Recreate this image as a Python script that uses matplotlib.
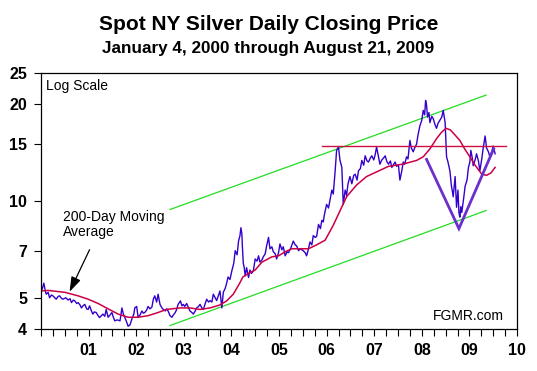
import numpy as np
import matplotlib
matplotlib.use('Agg')
import matplotlib.pyplot as plt
from matplotlib.ticker import FixedLocator, NullFormatter

plt.rcParams['font.family'] = ['Liberation Sans', 'DejaVu Sans']

# spot silver close (decimal year, US$/oz)
price_t = [2000.00, 2000.03, 2000.06, 2000.09, 2000.11, 2000.15, 2000.18, 2000.22, 2000.25, 2000.29,
           2000.32, 2000.36, 2000.39, 2000.43, 2000.46, 2000.52, 2000.57, 2000.61, 2000.64, 2000.68,
           2000.71, 2000.75, 2000.78, 2000.82, 2000.85, 2000.88, 2000.92, 2000.96, 2000.99, 2001.02,
           2001.06, 2001.09, 2001.12, 2001.16, 2001.20, 2001.23, 2001.27, 2001.30, 2001.34, 2001.37,
           2001.41, 2001.45, 2001.49, 2001.52, 2001.55, 2001.60, 2001.66, 2001.70, 2001.73, 2001.76,
           2001.80, 2001.83, 2001.87, 2001.91, 2001.95, 2001.97, 2002.01, 2002.04, 2002.08, 2002.12,
           2002.15, 2002.18, 2002.22, 2002.25, 2002.29, 2002.33, 2002.36, 2002.39, 2002.43, 2002.46,
           2002.50, 2002.54, 2002.57, 2002.61, 2002.64, 2002.67, 2002.71, 2002.75, 2002.78, 2002.82,
           2002.85, 2002.88, 2002.93, 2002.96, 2002.99, 2003.02, 2003.06, 2003.10, 2003.13, 2003.17,
           2003.20, 2003.24, 2003.27, 2003.31, 2003.34, 2003.38, 2003.41, 2003.45, 2003.48, 2003.52,
           2003.55, 2003.59, 2003.62, 2003.66, 2003.69, 2003.73, 2003.76, 2003.80, 2003.83, 2003.87,
           2003.90, 2003.93, 2003.97, 2004.01, 2004.05, 2004.08, 2004.12, 2004.15, 2004.18, 2004.20,
           2004.22, 2004.23, 2004.25, 2004.27, 2004.29, 2004.32, 2004.36, 2004.39, 2004.42, 2004.46,
           2004.50, 2004.54, 2004.57, 2004.60, 2004.64, 2004.67, 2004.71, 2004.74, 2004.78, 2004.81,
           2004.85, 2004.88, 2004.92, 2004.95, 2004.99, 2005.02, 2005.06, 2005.09, 2005.13, 2005.17,
           2005.20, 2005.25, 2005.30, 2005.34, 2005.37, 2005.41, 2005.44, 2005.48, 2005.51, 2005.55,
           2005.58, 2005.62, 2005.65, 2005.69, 2005.72, 2005.76, 2005.79, 2005.83, 2005.87, 2005.90,
           2005.93, 2005.95, 2006.00, 2006.04, 2006.08, 2006.11, 2006.14, 2006.18, 2006.21, 2006.25,
           2006.28, 2006.32, 2006.35, 2006.39, 2006.42, 2006.45, 2006.49, 2006.53, 2006.57, 2006.60,
           2006.64, 2006.67, 2006.71, 2006.74, 2006.78, 2006.81, 2006.85, 2006.88, 2006.92, 2006.95,
           2006.99, 2007.02, 2007.05, 2007.09, 2007.12, 2007.16, 2007.20, 2007.23, 2007.27, 2007.30,
           2007.34, 2007.37, 2007.41, 2007.44, 2007.47, 2007.51, 2007.54, 2007.58, 2007.61, 2007.64,
           2007.68, 2007.71, 2007.75, 2007.78, 2007.82, 2007.85, 2007.89, 2007.92, 2007.96, 2008.00,
           2008.03, 2008.06, 2008.08, 2008.10, 2008.12, 2008.15, 2008.17, 2008.21, 2008.24, 2008.28,
           2008.31, 2008.34, 2008.38, 2008.42, 2008.45, 2008.49, 2008.52, 2008.55, 2008.59, 2008.62,
           2008.66, 2008.70, 2008.73, 2008.76, 2008.78, 2008.80, 2008.82, 2008.84, 2008.88, 2008.91,
           2008.95, 2008.98, 2009.01, 2009.03, 2009.06, 2009.08, 2009.12, 2009.15, 2009.19, 2009.22,
           2009.26, 2009.29, 2009.33, 2009.36, 2009.40, 2009.43, 2009.47, 2009.50, 2009.52, 2009.54]
price_v = [5.20, 5.35, 5.55, 5.25, 5.13, 5.20, 5.00, 5.10, 5.07, 5.00,
           4.95, 5.05, 5.07, 4.98, 4.95, 5.00, 4.92, 4.97, 4.83, 4.92,
           4.89, 4.80, 4.83, 4.75, 4.65, 4.72, 4.77, 4.62, 4.60, 4.72,
           4.55, 4.45, 4.52, 4.50, 4.40, 4.34, 4.40, 4.45, 4.38, 4.60,
           4.35, 4.42, 4.50, 4.35, 4.24, 4.27, 4.24, 4.65, 4.45, 4.35,
           4.20, 4.08, 4.12, 4.30, 4.45, 4.65, 4.70, 4.35, 4.42, 4.55,
           4.48, 4.50, 4.58, 4.70, 4.62, 4.68, 4.95, 5.07, 4.85, 5.13,
           4.77, 4.65, 4.60, 4.55, 4.62, 4.55, 4.40, 4.35, 4.42, 4.50,
           4.60, 4.77, 4.89, 4.72, 4.77, 4.70, 4.80, 4.65, 4.55, 4.50,
           4.45, 4.55, 4.65, 4.70, 4.77, 4.65, 4.60, 4.80, 4.95, 4.85,
           4.90, 4.85, 5.13, 5.00, 4.90, 5.10, 5.25, 4.65, 5.20, 5.35,
           5.55, 5.80, 5.70, 6.07, 6.40, 7.00, 6.80, 7.50, 7.80, 8.25,
           7.90, 7.25, 6.40, 6.20, 5.85, 6.20, 5.78, 6.10, 5.95, 6.05,
           6.60, 6.50, 6.75, 6.45, 6.55, 6.70, 6.85, 7.25, 7.70, 7.10,
           7.20, 6.95, 6.85, 6.60, 6.90, 7.35, 7.05, 7.20, 6.75, 6.95,
           6.90, 7.15, 7.50, 7.30, 7.25, 7.00, 7.10, 7.05, 7.00, 6.90,
           6.75, 7.10, 7.45, 7.30, 7.80, 7.70, 7.75, 8.45, 8.20, 8.70,
           8.60, 9.00, 9.75, 9.50, 10.20, 10.80, 10.50, 12.40, 14.35, 14.70,
           13.40, 12.70, 9.75, 10.80, 10.40, 11.30, 11.90, 11.30, 12.00, 12.10,
           11.60, 12.40, 12.60, 13.35, 12.90, 13.80, 13.30, 13.20, 13.60, 13.80,
           13.40, 13.90, 14.70, 13.70, 13.00, 13.40, 13.60, 13.80, 13.20, 13.00,
           13.30, 12.70, 13.00, 13.20, 12.80, 12.90, 11.60, 12.40, 13.20, 13.00,
           13.70, 13.50, 15.40, 14.60, 14.20, 14.60, 15.00, 16.00, 17.10, 17.80,
           19.10, 18.50, 20.50, 19.80, 18.20, 18.80, 17.50, 18.30, 18.00, 17.20,
           16.80, 17.40, 17.80, 18.20, 19.10, 17.50, 13.70, 13.20, 12.40, 11.20,
           10.30, 11.90, 9.55, 10.80, 9.20, 8.90, 9.60, 9.20, 10.20, 11.10,
           11.60, 12.70, 13.20, 14.35, 13.60, 12.85, 13.40, 14.00, 13.30, 12.40,
           13.50, 14.60, 15.90, 14.60, 14.20, 13.70, 14.20, 14.80, 14.40, 14.00]

# 200-day moving average
ma_t = [2000.00, 2000.15, 2000.50, 2000.78, 2000.99, 2001.20, 2001.41, 2001.62, 2001.83, 2002.04,
        2002.25, 2002.46, 2002.63, 2002.92, 2003.13, 2003.34, 2003.55, 2003.76, 2003.90, 2004.04,
        2004.18, 2004.24, 2004.36, 2004.50, 2004.64, 2004.85, 2004.99, 2005.13, 2005.27, 2005.48,
        2005.62, 2005.79, 2005.97, 2006.14, 2006.28, 2006.42, 2006.63, 2006.84, 2007.05, 2007.30,
        2007.60, 2007.89, 2008.03, 2008.17, 2008.31, 2008.41, 2008.51, 2008.60, 2008.70, 2008.80,
        2008.90, 2009.01, 2009.12, 2009.26, 2009.36, 2009.45, 2009.54]
ma_v = [5.25, 5.27, 5.20, 5.07, 4.95, 4.80, 4.62, 4.45, 4.35, 4.35,
        4.40, 4.50, 4.60, 4.65, 4.65, 4.60, 4.65, 4.75, 4.89, 5.13,
        5.57, 5.80, 5.95, 6.10, 6.45, 6.70, 6.75, 6.95, 7.10, 7.10,
        7.10, 7.30, 7.55, 8.40, 9.30, 10.30, 11.20, 11.90, 12.30, 12.80,
        13.00, 13.35, 13.70, 14.50, 15.60, 16.30, 16.80, 16.60, 16.00, 15.40,
        14.50, 13.70, 12.90, 12.10, 12.00, 12.20, 12.70]

# trend channel, resistance line and the V
upper_t, upper_v = [2002.71, 2009.35], [9.4, 21.3]
lower_t, lower_v = [2002.71, 2009.35], [4.1, 9.33]
resist_t, resist_v = [2005.90, 2009.76], [14.8, 14.8]
vee_t, vee_v = [2008.10, 2008.78, 2009.51], [13.45, 8.2, 14.5]

yticks = [4, 5, 7, 10, 15, 20, 25]
year_labels = ['01', '02', '03', '04', '05', '06', '07', '08', '09', '10']

fig = plt.figure(figsize=(5.37, 3.71), dpi=100)
ax = fig.add_axes([41/537, 1-329/371, 476/537, (329-72.7)/371])

ax.plot(upper_t, upper_v, color='#22dd22', lw=0.9)
ax.plot(lower_t, lower_v, color='#22dd22', lw=0.9)
ax.plot(price_t, price_v, color='#3300cc', lw=1.0)
ax.plot(resist_t, resist_v, color='#cc1144', lw=1.0)
ax.plot(ma_t, ma_v, color='#cc0044', lw=1.1)
ax.plot(vee_t, vee_v, color='#6a2fcc', lw=2.0, solid_joinstyle='miter')

ax.set_yscale('log')
ax.set_ylim(4, 25)
ax.set_xlim(2000, 2010)
ax.yaxis.set_major_locator(FixedLocator(yticks))
ax.yaxis.set_minor_locator(FixedLocator([]))
ax.yaxis.set_minor_formatter(NullFormatter())
ax.set_yticklabels([str(v) for v in yticks], fontweight='bold', fontsize=11.5)

ax.set_xticks(np.arange(2000, 2010.01, 0.25), minor=True)
ax.set_xticks(np.arange(2001, 2011))
ax.set_xticklabels(year_labels, fontweight='bold', fontsize=11.5)
ax.tick_params(axis='both', which='both', direction='out', length=5, width=0.8, color='black')
ax.tick_params(axis='x', which='major', pad=5)
ax.tick_params(axis='y', which='major', pad=5)
for s in ax.spines.values():
    s.set_linewidth(0.9)
    s.set_color('black')

ax.text(0.01, 0.975, 'Log Scale', transform=ax.transAxes, fontsize=10, va='top', ha='left')
ax.text(0.973, 0.025, 'FGMR.com', transform=ax.transAxes, fontsize=10, va='bottom', ha='right')
ax.text(2000.47, 9.35, '200-Day Moving\nAverage', fontsize=10, va='top', ha='left', linespacing=1.1)
ax.annotate('', xy=(2000.60, 5.22), xytext=(2001.02, 7.05),
            arrowprops=dict(arrowstyle='-|>,head_length=0.9,head_width=0.3', color='black', lw=0.9,
                            shrinkA=0, shrinkB=0))

fig.text(0.5, 1-30/371, 'Spot NY Silver Daily Closing Price', ha='center', va='baseline',
         fontsize=15, fontweight='bold')
fig.text(0.5, 1-53/371, 'January 4, 2000 through August 21, 2009', ha='center', va='baseline',
         fontsize=12.3, fontweight='bold')

fig.savefig('out.png', dpi=100)
